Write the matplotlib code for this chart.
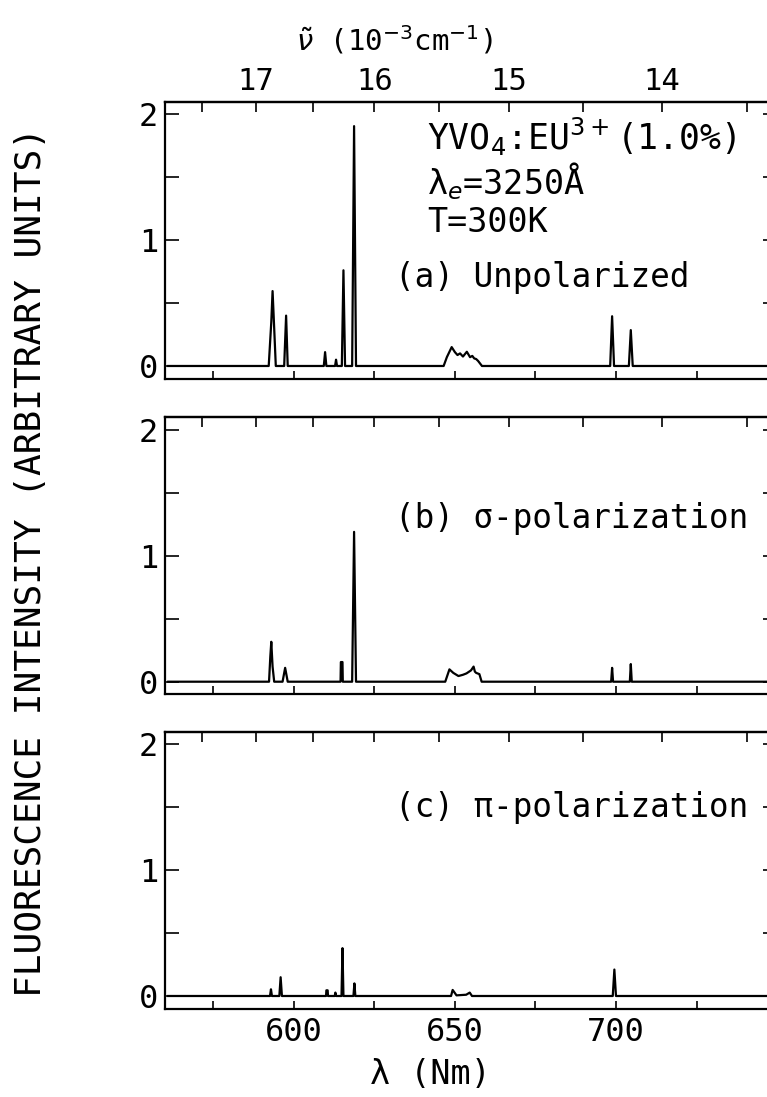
import numpy as np
import matplotlib
matplotlib.use("Agg")
import matplotlib.pyplot as plt

plt.rcParams["font.family"] = ["DejaVu Sans Mono", "DejaVu Sans"]

# Trace vertices (wavelength in nm, intensity in arbitrary units) for each polarization
wavelength_a = [561.0, 592.2, 593.0, 593.4, 593.9, 594.4, 597.0, 597.6, 598.1,
                609.3, 609.7, 610.1, 612.8, 613.1, 613.4, 614.9, 615.4, 615.9,
                618.1, 618.7, 619.3,
                646.5, 647.5, 649.0, 650.0, 650.8, 651.6, 652.5, 653.7, 654.7,
                655.4, 656.0, 656.6, 657.2, 658.4,
                698.2, 698.8, 699.4, 704.0, 704.6, 705.2, 750.0]
intensity_a = [0.0, 0.0, 0.35, 0.595, 0.30, 0.0, 0.0, 0.40, 0.0,
               0.0, 0.11, 0.0, 0.0, 0.05, 0.0, 0.0, 0.76, 0.0,
               0.0, 1.905, 0.0,
               0.0, 0.07, 0.15, 0.11, 0.087, 0.10, 0.075, 0.113, 0.07,
               0.08, 0.06, 0.055, 0.04, 0.0,
               0.0, 0.395, 0.0, 0.0, 0.285, 0.0, 0.0]

wavelength_b = [561.0, 592.3, 592.7, 593.0, 593.4, 593.9, 596.5, 597.3, 598.1,
                614.5, 614.6, 615.1, 615.2, 618.1, 618.7, 619.3,
                647.0, 648.3, 649.5, 651.1, 652.5, 653.6, 655.0, 655.8, 656.2,
                656.6, 657.6, 658.3,
                698.5, 698.8, 699.1, 704.3, 704.6, 704.9, 750.0]
intensity_b = [0.0, 0.0, 0.20, 0.317, 0.12, 0.0, 0.0, 0.11, 0.0,
               0.0, 0.156, 0.156, 0.0, 0.0, 1.19, 0.0,
               0.0, 0.098, 0.07, 0.045, 0.055, 0.066, 0.09, 0.12, 0.08,
               0.07, 0.06, 0.0,
               0.0, 0.11, 0.0, 0.0, 0.14, 0.0, 0.0]

wavelength_c = [561.0, 592.6, 592.9, 593.2, 595.5, 595.9, 596.3,
                610.0, 610.1, 610.5, 610.6, 612.7, 612.9, 613.1,
                614.8, 615.1, 615.4, 618.5, 618.8, 619.1,
                648.8, 649.3, 650.5, 653.5, 654.6, 655.3,
                699.0, 699.5, 700.0, 750.0]
intensity_c = [0.0, 0.0, 0.053, 0.0, 0.0, 0.149, 0.0,
               0.0, 0.045, 0.045, 0.0, 0.0, 0.027, 0.0,
               0.0, 0.38, 0.0, 0.0, 0.10, 0.0,
               0.0, 0.048, 0.005, 0.01, 0.027, 0.0,
               0.0, 0.21, 0.0, 0.0]

panel_labels = ["(a) Unpolarized", "(b) σ-polarization", "(c) π-polarization"]
label_heights = [0.70, 1.30, 1.50]
wavenumber_major = [17, 16, 15, 14]
wavenumber_minor = [17.5, 16.5, 15.5, 14.5, 13.5]
wavelength_major = [600, 650, 700]
wavelength_minor = [575, 625, 675, 725]


def to_wavenumber(x):
    """nm <-> 10^3 cm^-1 (the map is its own inverse)"""
    x = np.asarray(x, dtype=float)
    with np.errstate(divide="ignore", invalid="ignore"):
        return np.where(x != 0, 1e4 / x, np.inf)


def draw_panel(ax, wl, inten, label, label_y, show_top, show_bottom):
    ax.plot(wl, inten, color="black", lw=1.6)
    ax.set_xlim(560, 750)
    ax.set_ylim(-0.1, 2.1)

    ax.set_xticks(wavelength_major)
    ax.set_xticks(wavelength_minor, minor=True)
    ax.set_yticks([0, 1, 2])
    ax.set_yticks([0.5, 1.5], minor=True)
    ax.tick_params(axis="x", which="both", direction="in", length=6, width=1.2,
                   top=False, labelbottom=show_bottom, labelsize=23, pad=6)
    ax.tick_params(axis="y", which="both", direction="in", length=10, width=1.2,
                   left=True, right=True, labelsize=23, pad=5)
    for sp in ax.spines.values():
        sp.set_linewidth(1.6)

    sec = ax.secondary_xaxis("top", functions=(to_wavenumber, to_wavenumber))
    sec.set_xticks(wavenumber_major)
    sec.set_xticks(wavenumber_minor, minor=True)
    sec.tick_params(axis="x", which="both", direction="in", length=7, width=1.2,
                    labeltop=show_top, labelsize=22, pad=4)
    sec.spines["top"].set_linewidth(1.6)

    ax.text(631.4, label_y, label, fontsize=23.5, ha="left", va="center")
    return sec


fig = plt.figure(figsize=(7.67, 10.97), dpi=100)
left, width, height = 0.2151, 0.798, 0.2525
ax_a = fig.add_axes([left, 0.6549, width, height])
ax_b = fig.add_axes([left, 0.3671, width, height])
ax_c = fig.add_axes([left, 0.0806, width, height])

draw_panel(ax_a, wavelength_a, intensity_a, panel_labels[0], label_heights[0], True, False)
draw_panel(ax_b, wavelength_b, intensity_b, panel_labels[1], label_heights[1], False, False)
draw_panel(ax_c, wavelength_c, intensity_c, panel_labels[2], label_heights[2], False, True)

# sample description in the top panel
ax_a.text(641.4, 1.82, "YVO$_4$:EU$^{3+}$(1.0%)", fontsize=25, ha="left", va="center")
ax_a.text(641.4, 1.47, "λ$_e$=3250Å", fontsize=24, ha="left", va="center")
ax_a.text(641.4, 1.14, "T=300K", fontsize=24, ha="left", va="center")

fig.text(395 / 767, 1 - 40 / 1097, r"$\tilde{\nu}$ (10$^{-3}$cm$^{-1}$)",
         fontsize=21, ha="center", va="center")
fig.text(430 / 767, 1 - 1075 / 1097, "λ (Nm)", fontsize=24, ha="center", va="center")
fig.text(31 / 767, 1 - 562 / 1097, "FLUORESCENCE INTENSITY (ARBITRARY UNITS)",
         fontsize=26, rotation=90, ha="center", va="center")

fig.savefig("out.png", dpi=100)
